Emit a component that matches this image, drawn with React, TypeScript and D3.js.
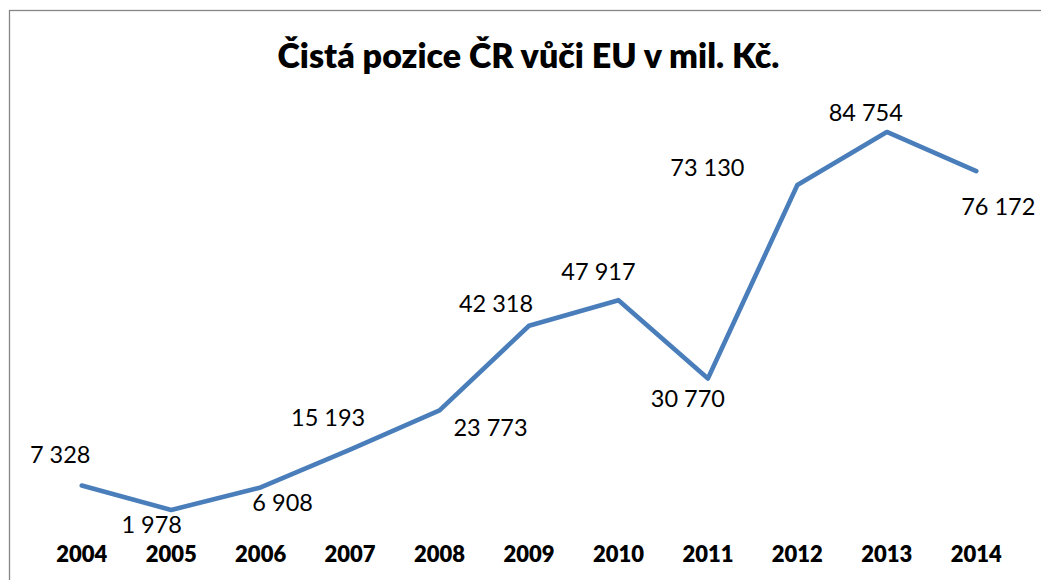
import React from "react";
import * as d3 from "d3";

const years = ["2004", "2005", "2006", "2007", "2008", "2009", "2010", "2011", "2012", "2013", "2014"];
const values = [7328, 1978, 6908, 15193, 23773, 42318, 47917, 30770, 73130, 84754, 76172];
const valueLabels = ["7 328", "1 978", "6 908", "15 193", "23 773", "42 318", "47 917", "30 770", "73 130", "84 754", "76 172"];
const titleText = "Čistá pozice ČR vůči EU v mil. Kč.";

// label placement offsets (layout, relative to each point)
const labelDx = [-21.5, -19.5, 22, -22, 51, -33, -20, -20, -90, -21, 22];
const labelDy = [-23, 23, 24, -24, 26, -14, -20, 29, -9, -11, 44];

const W = 1041;
const H = 580;

export default function App() {
  const x = d3.scaleBand<string>().domain(years).range([37, 1021]).padding(0);
  const y = d3.scaleLinear().domain([0, 90000]).range([519, 108]);
  const cx = (d: string) => (x(d) as number) + x.bandwidth() / 2;
  const line = d3
    .line<number>()
    .x((_, i) => cx(years[i]))
    .y((d) => y(d));
  const font = "Lato, 'Open Sans', sans-serif";
  return (
    <svg
      width={W}
      height={H}
      style={{ position: "absolute", left: 0, top: 0, background: "#fff" }}
    >
      <rect x={0} y={0} width={W} height={H} fill="#fff" />
      <rect x={9.5} y={10.5} width={1200} height={800} fill="#fff" stroke="#868686" strokeWidth={1.3} />
      <text
        x={528.5}
        y={68}
        textAnchor="middle"
        fontFamily={font}
        fontWeight={800}
        fontSize={34}
        fill="#000"
      >
        {titleText}
      </text>
      <path
        d={line(values) || ""}
        fill="none"
        stroke="#4a7ebb"
        strokeWidth={4.6}
        strokeLinejoin="round"
        strokeLinecap="round"
      />
      {values.map((v, i) => (
        <text
          key={"v" + i}
          x={cx(years[i]) + labelDx[i]}
          y={y(v) + labelDy[i]}
          textAnchor="middle"
          fontFamily={font}
          fontSize={23.5}
          fill="#000"
        >
          {valueLabels[i]}
        </text>
      ))}
      {years.map((yr) => (
        <text
          key={yr}
          x={cx(yr)}
          y={562}
          textAnchor="middle"
          fontFamily={font}
          fontWeight={800}
          fontSize={22}
          fill="#000"
        >
          {yr}
        </text>
      ))}
    </svg>
  );
}
